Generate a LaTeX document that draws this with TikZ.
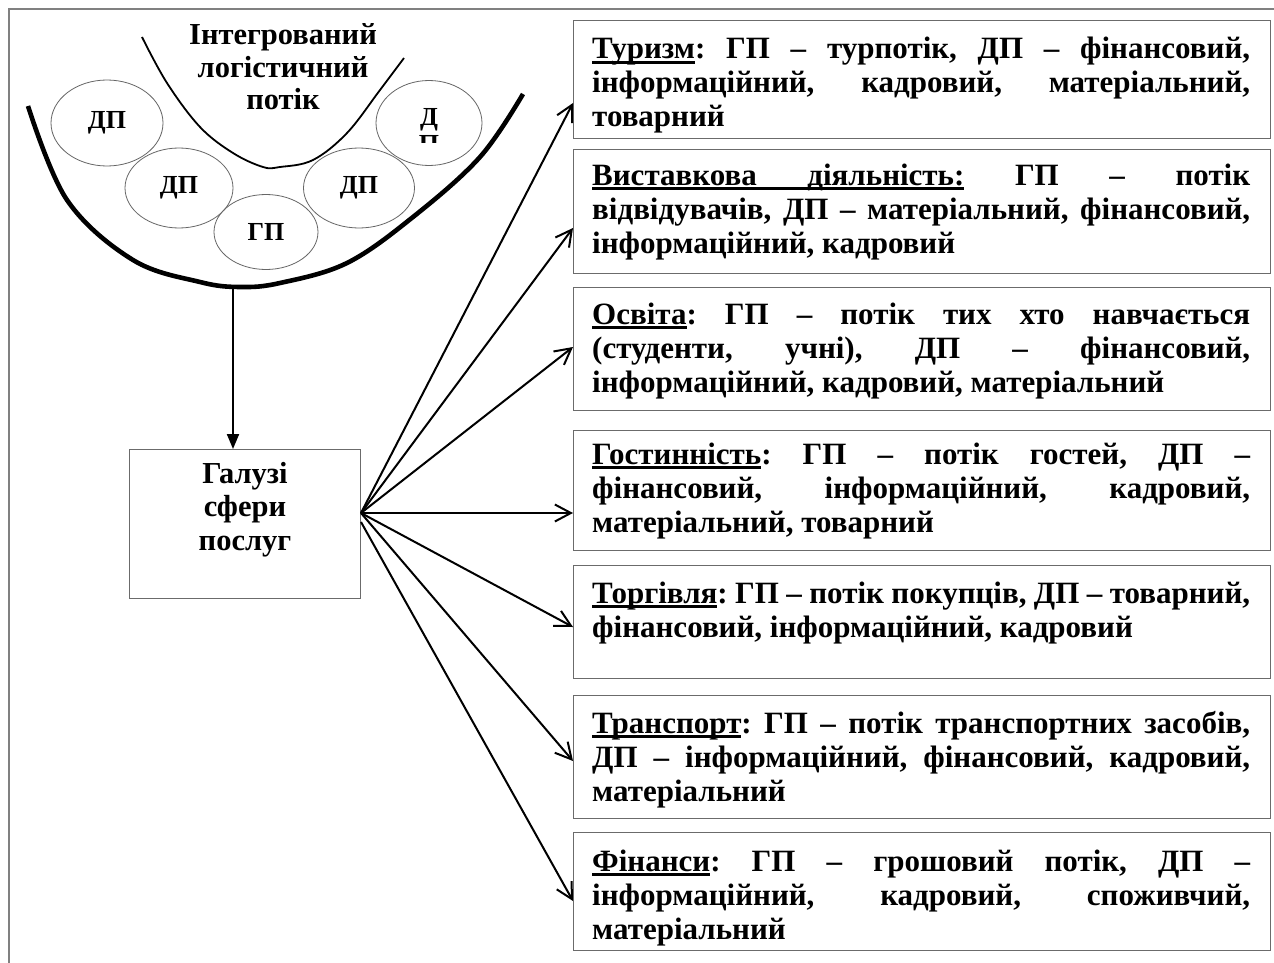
\documentclass[tikz,border=0pt]{standalone}
\usepackage{fontspec}
\setmainfont{Liberation Serif}
\usetikzlibrary{shapes.geometric,arrows.meta}
\frenchspacing
\newlength\tw \setlength\tw{658pt}
\newcommand\jl[1]{\makebox[\tw][s]{#1}}
\newcommand\boxtext[1]{\parbox[t]{\tw}{\fontsize{31}{34}\selectfont\bfseries\frenchspacing #1}}
\newcommand\ulw[1]{\setbox0\hbox{#1}\rlap{\rule[-4.6pt]{\wd0}{2.6pt}}\box0\relax}
\newcommand\ulsp{\leaders\hrule height -2pt depth 4.6pt\hskip\fontdimen2\font plus\fontdimen3\font minus\fontdimen4\font\relax}
\begin{document}
\begin{tikzpicture}[x=1pt,y=-1pt,
  frame/.style={draw=black!50, line width=1.3pt},
  fbox/.style={draw=black!58, line width=1.2pt, anchor=north west, inner sep=0pt},
  ell/.style={ellipse, draw=black!60, line width=0.8pt, inner sep=0pt,
    font=\fontsize{26}{28}\selectfont\bfseries},
  lbl/.style={inner sep=0pt, font=\fontsize{26}{28}\selectfont\bfseries},
  txt/.style={anchor=base west, inner sep=0pt},
  ctxt/.style={anchor=base, inner sep=0pt},
  arr/.style={line width=2pt, -{Straight Barb[length=16pt,width=17pt]}},
  varr/.style={line width=2pt, -{Triangle[length=15pt,width=12pt]}},
  thick curve/.style={line width=4.6pt},
  thin curve/.style={line width=1.8pt}]
\useasboundingbox (0,0) rectangle (1274,963);
\fill[white] (0,0) rectangle (1274,963);

% outer frame (top and left)
\draw[frame] (1274,9) -- (9,9) -- (9,963);

% funnel
\draw[thin curve] plot[smooth, tension=0.6] coordinates {(142,37) (167,83) (200,127) (233,153) (263,167) (280,167) (313,160) (347,133) (380,90) (404,58)};
\draw[thick curve] plot[smooth, tension=0.6] coordinates {(28,106) (67,200) (133,260) (200,282) (240,287) (280,283) (347,263) (413,217) (480,157) (523,94)};

% title
\node[ctxt] (title) at (283,45) {\parbox[t]{260pt}{\centering\fontsize{30.5}{32.5}\selectfont\bfseries Інтегрований\\логістичний\\потік}};

% ellipses
\node[ell, minimum width=112pt, minimum height=86pt] (e1) at (107,123) {ДП};
\node[ell, minimum width=108pt, minimum height=80pt] (e2) at (179,188) {ДП};
\node[ell, minimum width=104pt, minimum height=75pt] (e3) at (266,232) {ГП};
\node[ell, minimum width=111pt, minimum height=80pt] (e4) at (359,188) {ДП};
\node[ell, minimum width=106pt, minimum height=85pt] (e5) at (429,123) {};
\begin{scope}
  \clip (370,60) rectangle (490,143);
  \node[lbl, anchor=base] (d5) at (429,125) {Д};
  \node[lbl, anchor=base] (p5) at (429,153) {П};
\end{scope}

% service sectors box
\node[fbox, minimum width=231pt, minimum height=149pt] (g) at (129,449) {};
\node[ctxt] (gt) at (245,483) {\parbox[t]{220pt}{\centering\fontsize{30.5}{33.5}\selectfont\bfseries Галузі\\сфери\\послуг}};

\coordinate (cb) at (233,287);
\draw[varr] (cb) -- (cb |- g.north);

% right boxes
\node[fbox, minimum width=697pt, minimum height=118pt] (b1) at (573,20) {};
\node[fbox, minimum width=697pt, minimum height=124pt] (b2) at (573,149) {};
\node[fbox, minimum width=697pt, minimum height=123pt] (b3) at (573,287) {};
\node[fbox, minimum width=697pt, minimum height=120pt] (b4) at (573,430) {};
\node[fbox, minimum width=697pt, minimum height=113pt] (b5) at (573,565) {};
\node[fbox, minimum width=697pt, minimum height=123pt] (b6) at (573,695) {};
\node[fbox, minimum width=697pt, minimum height=118pt] (b7) at (573,832) {};

\node[txt] (t1) at (592,59) {\boxtext{\jl{\ulw{Туризм}: ГП – турпотік, ДП – фінансовий,}\\
\jl{інформаційний, кадровий, матеріальний,}\\
товарний}};
\node[txt] (t2) at (592,185) {\boxtext{\jl{\ulw{Виставкова}\ulsp\ulw{діяльність:} ГП – потік}\\
\jl{відвідувачів, ДП – матеріальний, фінансовий,}\\
інформаційний, кадровий}};
\node[txt] (t3) at (592,324) {\boxtext{\jl{\ulw{Освіта}: ГП – потік тих хто навчається}\\
\jl{(студенти, учні), ДП – фінансовий,}\\
інформаційний, кадровий, матеріальний}};
\node[txt] (t4) at (592,464) {\boxtext{\jl{\ulw{Гостинність}: ГП – потік гостей, ДП –}\\
\jl{фінансовий, інформаційний, кадровий,}\\
матеріальний, товарний}};
\node[txt] (t5) at (592,603) {\boxtext{\jl{\ulw{Торгівля}: ГП – потік покупців, ДП – товарний,}\\
фінансовий, інформаційний, кадровий}};
\node[txt] (t6) at (592,733) {\boxtext{\jl{\ulw{Транспорт}: ГП – потік транспортних засобів,}\\
\jl{ДП – інформаційний, фінансовий, кадровий,}\\
матеріальний}};
\node[txt] (t7) at (592,871) {\boxtext{\jl{\ulw{Фінанси}: ГП – грошовий потік, ДП –}\\
\jl{інформаційний, кадровий, споживчий,}\\
матеріальний}};

% connectors
\coordinate (o) at (361,513);
\coordinate (o7) at (361,522);
\coordinate (a1) at (573,103);
\coordinate (a2) at (573,228);
\coordinate (a3) at (573,347);
\coordinate (a4) at (573,513);
\coordinate (a5) at (573,627);
\coordinate (a6) at (573,761);
\coordinate (a7) at (573,901);
\draw[arr] (o) -- (a1);
\draw[arr] (o) -- (a2);
\draw[arr] (o) -- (a3);
\draw[arr] (o) -- (a4);
\draw[arr] (o) -- (a5);
\draw[arr] (o) -- (a6);
\draw[arr] (o7) -- (a7);
\end{tikzpicture}
\end{document}
